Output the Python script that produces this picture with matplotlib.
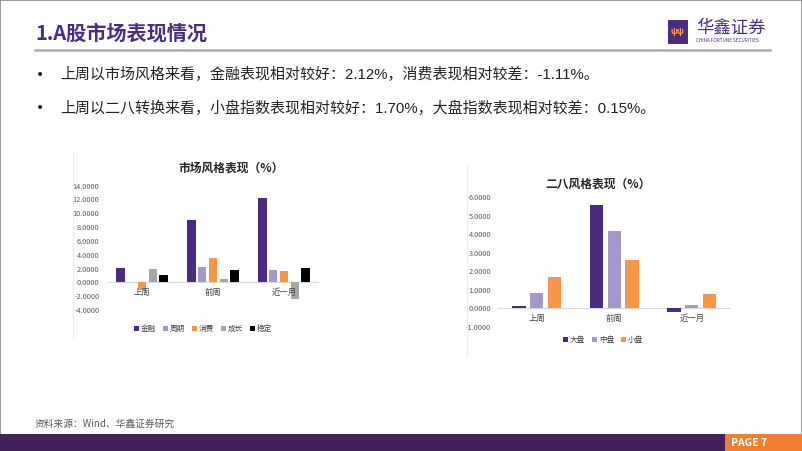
import matplotlib
matplotlib.use("Agg")
import matplotlib.pyplot as plt
from matplotlib.patches import Rectangle
from matplotlib.lines import Line2D
import numpy as np

plt.rcParams['font.family'] = ['Noto Sans CJK SC', 'DejaVu Sans']

# ---------------- data ----------------
categories = ['上周', '前周', '近一月']
style_series = ['金融', '周期', '消费', '成长', '稳定']
style_jinrong = [2.12, 9.00, 12.15]
style_zhouqi = [0.03, 2.27, 1.79]
style_xiaofei = [-1.11, 3.57, 1.64]
style_chengzhang = [1.88, 0.48, -2.46]
style_wending = [1.00, 1.74, 2.08]
style_yticks = [-4, -2, 0, 2, 4, 6, 8, 10, 12, 14]

size_series = ['大盘', '中盘', '小盘']
size_dapan = [0.15, 5.59, -0.18]
size_zhongpan = [0.81, 4.20, 0.16]
size_xiaopan = [1.70, 2.63, 0.78]
size_yticks = [-1, 0, 1, 2, 3, 4, 5, 6]

PURPLE = '#4b2c82'
LPURPLE = '#a497cc'
ORANGE = '#f79646'
GRAY = '#a6a6a6'
BLACK = '#000000'

W, H = 802, 451
fig = plt.figure(figsize=(W / 100, H / 100), dpi=100)


def fx(px):
    return px / W


def fy(py):
    return 1 - py / H


# outer frame
fig.add_artist(Rectangle((0, 0), 1, 1, transform=fig.transFigure, fill=False,
                         edgecolor='#8c8c8c', lw=1.2))

# header
fig.text(fx(35), fy(33), '1.A股市场表现情况', fontsize=14.5, fontweight='bold',
         color='#4b2c82', va='center', ha='left')
fig.add_artist(Line2D([fx(35), fx(770)], [fy(50), fy(50)], transform=fig.transFigure,
                      color='#acacbc', lw=1.8))
# logo
fig.add_artist(Rectangle((fx(668), fy(44)), fx(688) - fx(668), fy(20) - fy(44),
                         transform=fig.transFigure, facecolor='#4b2c82', edgecolor='none'))
fig.text(fx(678), fy(32), 'ψψ', fontsize=6, color='#f7a24a', ha='center', va='center',
         fontweight='bold')
fig.text(fx(696), fy(28), '华鑫证券', fontsize=12.5, color='#4b2c82', ha='left', va='center')
fig.text(fx(696), fy(41), 'CHINA FORTUNE SECURITIES', fontsize=3.3, color='#4b2c82',
         ha='left', va='center')

# bullets
bullets = ['上周以市场风格来看，金融表现相对较好：2.12%，消费表现相对较差：-1.11%。',
           '上周以二八转换来看，小盘指数表现相对较好：1.70%，大盘指数表现相对较差：0.15%。']
for yy, t in zip([75, 108], bullets):
    fig.text(fx(40), fy(yy), '•', fontsize=10, color='#222222', ha='center', va='center',
             family=['DejaVu Sans'])
    fig.text(fx(60), fy(yy), t, fontsize=10.8, color='#222222', ha='left', va='center',
             family=['Liberation Sans', 'Noto Sans CJK SC'])

# footer
fig.text(fx(35), fy(424), '资料来源：Wind、华鑫证券研究', fontsize=7, color='#595959',
         ha='left', va='center')
fig.add_artist(Rectangle((0, 0), 1, fy(434), transform=fig.transFigure,
                         facecolor='#45215a', edgecolor='none'))
fig.add_artist(Rectangle((fx(725), 0), 1 - fx(725), fy(434), transform=fig.transFigure,
                         facecolor='#ef7f2e', edgecolor='none'))
fig.text(fx(749), fy(442.5), 'PAGE 7', fontsize=7.5, color='white', fontweight='bold',
         ha='center', va='center')

# panel faint left borders
fig.add_artist(Line2D([fx(73), fx(73)], [fy(152), fy(338)], transform=fig.transFigure,
                      color='#ececec', lw=0.8))
fig.add_artist(Line2D([fx(467), fx(467)], [fy(165), fy(356)], transform=fig.transFigure,
                      color='#ececec', lw=0.8))


def make_axes(left, right, top, bottom):
    return fig.add_axes([fx(left), fy(bottom), fx(right) - fx(left), fy(top) - fy(bottom)])


def style_ax(ax, yticks, ylim):
    ax.set_xlim(-0.5, 2.5)
    ax.set_ylim(*ylim)
    for s in ax.spines.values():
        s.set_visible(False)
    ax.set_yticks(yticks)
    ax.set_yticklabels([f'{v:.4f}' for v in yticks], fontsize=5.3, color='#595959')
    ax.tick_params(axis='y', length=0, pad=5)
    ax.set_xticks([])
    ax.axhline(0, color='#d9d9d9', lw=0.8, zorder=1)
    ax.patch.set_alpha(0)
    for i, c in enumerate(categories):
        ax.annotate(c, (i, 0), xytext=(0, -7.5), textcoords='offset points',
                    ha='center', va='center', fontsize=6, color='#404040')


# ---------------- left chart ----------------
ax1 = make_axes(106.5, 319.5, 185.7, 309.9)
style_ax(ax1, style_yticks, (-4, 14))
x = np.arange(len(categories))
left_vals = [style_jinrong, style_zhouqi, style_xiaofei, style_chengzhang, style_wending]
left_cols = [PURPLE, LPURPLE, ORANGE, GRAY, BLACK]
bw1, st1 = 0.12, 0.152
for k, (vals, col, name) in enumerate(zip(left_vals, left_cols, style_series)):
    ax1.bar(x + (k - 2) * st1, vals, width=bw1, color=col, label=name, zorder=2)
fig.text(fx(231), fy(168.5), '市场风格表现（%）', fontsize=8.5, fontweight='bold',
         color='#262626', ha='center', va='center')
ax1.legend(loc='center', bbox_to_anchor=(fx(203), fy(329)), bbox_transform=fig.transFigure,
           ncol=5, frameon=False, fontsize=5.5, handlelength=0.6, handleheight=0.6,
           handletextpad=0.3, columnspacing=0.9, labelcolor='#404040')

# ---------------- right chart ----------------
ax2 = make_axes(498, 730.5, 197.3, 326.8)
style_ax(ax2, size_yticks, (-1, 6))
right_vals = [size_dapan, size_zhongpan, size_xiaopan]
right_cols = [PURPLE, LPURPLE, ORANGE]
bw2, st2 = 0.174, 0.226
for k, (vals, col, name) in enumerate(zip(right_vals, right_cols, size_series)):
    ax2.bar(x + (k - 1) * st2, vals, width=bw2, color=col, label=name, zorder=2)
fig.text(fx(598), fy(184.5), '二八风格表现（%）', fontsize=8.5, fontweight='bold',
         color='#262626', ha='center', va='center')
ax2.legend(loc='center', bbox_to_anchor=(fx(603), fy(340)), bbox_transform=fig.transFigure,
           ncol=3, frameon=False, fontsize=5.5, handlelength=0.6, handleheight=0.6,
           handletextpad=0.3, columnspacing=0.9, labelcolor='#404040')

fig.savefig('out.png', dpi=100)
